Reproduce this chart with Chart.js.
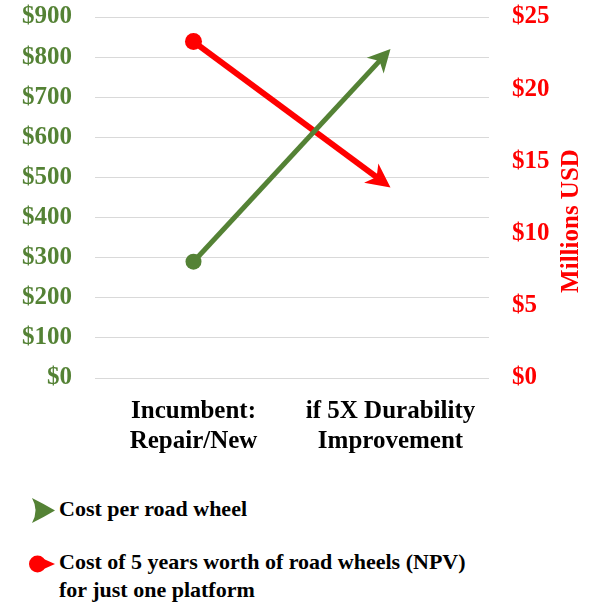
<!DOCTYPE html>
<html>
<head>
<meta charset="utf-8">
<script src="https://cdn.jsdelivr.net/npm/chart.js@4.4.1/dist/chart.umd.min.js"></script>
<style>
  body { margin: 0; background: #fff; }
  #wrap { position: relative; width: 591px; height: 602px; }
  #legend { font: bold 22px "Liberation Serif", "Times New Roman", serif; color: #000; }
  .item { position: absolute; left: 59px; line-height: 28px; white-space: nowrap; }
  .item svg { position: absolute; }
</style>
</head>
<body>
<div id="wrap">
  <canvas id="chart" width="591" height="470"></canvas>
  <div id="legend"></div>
</div>
<script>
// data
const categories = [["Incumbent:", "Repair/New"], ["if 5X Durability", "Improvement"]];
const wheelCost = [290, 820];        // $ per road wheel, left axis
const fiveYearCost = [23.3, 13.2];   // $ millions, right axis
const leftTicks = [0, 100, 200, 300, 400, 500, 600, 700, 800, 900];
const rightTicks = [0, 5, 10, 15, 20, 25];
const seriesLabels = [
  ["Cost per road wheel"],
  ["Cost of 5 years worth of road wheels (NPV)", "for just one platform"]
];
const rightTitle = "Millions USD";

const GREEN = "#548235";
const RED = "#ff0000";
const serif = '"Liberation Serif", "Times New Roman", serif';

Chart.defaults.font.family = serif;

// arrowhead sizes per dataset [length, half width]
const heads = [[22.5, 11.5], [24, 12]];

function endGeom(chart, index) {
  const pts = chart.getDatasetMeta(index).data;
  const a = pts[pts.length - 2], b = pts[pts.length - 1];
  const ang = Math.atan2(b.y - a.y, b.x - a.x);
  return { b, ux: Math.cos(ang), uy: Math.sin(ang) };
}

const arrowPlugin = {
  id: "arrows",
  beforeDatasetDraw(chart, args) {
    const { b, ux, uy } = endGeom(chart, args.index);
    const nx = -uy, ny = ux;
    const ctx = chart.ctx;
    ctx.save();
    ctx.beginPath();
    ctx.rect(0, 0, chart.width, chart.height);
    // cut the line end out so it does not poke past the arrow tip
    const s0 = -9, s1 = 12, w = 9;
    ctx.moveTo(b.x + ux * s0 + nx * w, b.y + uy * s0 + ny * w);
    ctx.lineTo(b.x + ux * s1 + nx * w, b.y + uy * s1 + ny * w);
    ctx.lineTo(b.x + ux * s1 - nx * w, b.y + uy * s1 - ny * w);
    ctx.lineTo(b.x + ux * s0 - nx * w, b.y + uy * s0 - ny * w);
    ctx.closePath();
    ctx.clip("evenodd");
  },
  afterDatasetDraw(chart, args) {
    const ctx = chart.ctx;
    ctx.restore();
    const { b, ux, uy } = endGeom(chart, args.index);
    const nx = -uy, ny = ux;
    const [L, W] = heads[args.index];
    const notch = L * 0.72;
    ctx.save();
    ctx.fillStyle = chart.data.datasets[args.index].borderColor;
    ctx.beginPath();
    ctx.moveTo(b.x, b.y);
    ctx.lineTo(b.x - ux * L + nx * W, b.y - uy * L + ny * W);
    ctx.lineTo(b.x - ux * notch, b.y - uy * notch);
    ctx.lineTo(b.x - ux * L - nx * W, b.y - uy * L - ny * W);
    ctx.closePath();
    ctx.fill();
    ctx.restore();
  }
};

const rightTitlePlugin = {
  id: "rightTitle",
  afterDraw(chart) {
    const sc = chart.scales.y1;
    const ctx = chart.ctx;
    ctx.save();
    ctx.translate(sc.right - 19, 221);
    ctx.rotate(-Math.PI / 2);
    ctx.font = "bold 25px " + serif;
    ctx.fillStyle = RED;
    ctx.textAlign = "center";
    ctx.textBaseline = "middle";
    ctx.fillText(rightTitle, 0, 0);
    ctx.restore();
  }
};

function fitY(width) {
  return (s) => {
    s.width = width;
    s.paddingTop = 0;
    s.paddingBottom = 0;
  };
}

const ctx = document.getElementById("chart").getContext("2d");
const chart = new Chart(ctx, {
  type: "line",
  data: {
    labels: categories,
    datasets: [
      {
        label: seriesLabels[0].join(" "),
        data: wheelCost,
        yAxisID: "y",
        borderColor: GREEN,
        backgroundColor: GREEN,
        borderWidth: 5,
        pointRadius: [8, 0],
        pointBorderWidth: 0,
        pointBackgroundColor: GREEN,
        tension: 0,
        borderCapStyle: "butt"
      },
      {
        label: seriesLabels[1].join(" "),
        data: fiveYearCost,
        yAxisID: "y1",
        borderColor: RED,
        backgroundColor: RED,
        borderWidth: 6,
        pointRadius: [8.5, 0],
        pointBorderWidth: 0,
        pointBackgroundColor: RED,
        tension: 0,
        borderCapStyle: "butt"
      }
    ]
  },
  options: {
    responsive: false,
    animation: false,
    devicePixelRatio: 1,
    layout: { padding: { top: 17, bottom: 0, left: 0, right: 0 } },
    plugins: {
      legend: { display: false },
      tooltip: { enabled: false }
    },
    scales: {
      x: {
        offset: true,
        grid: { display: false },
        border: { display: false },
        ticks: {
          color: "#000",
          font: { size: 25, weight: "bold", lineHeight: 1.2 },
          padding: 11,
          maxRotation: 0,
          autoSkip: false
        },
        afterFit: (s) => { s.height = 92; }
      },
      y: {
        position: "left",
        min: 0,
        max: 900,
        afterBuildTicks: (s) => { s.ticks = leftTicks.map((v) => ({ value: v })); },
        ticks: {
          color: GREEN,
          font: { size: 25, weight: "bold" },
          padding: 23,
          callback: (v) => "$" + v
        },
        grid: { color: "#d9d9d9", lineWidth: 1, drawTicks: false },
        border: { display: false },
        afterFit: fitY(95)
      },
      y1: {
        position: "right",
        min: 0,
        max: 25,
        afterBuildTicks: (s) => { s.ticks = rightTicks.map((v) => ({ value: v })); },
        ticks: {
          color: RED,
          font: { size: 25, weight: "bold" },
          padding: 23,
          callback: (v) => "$" + v
        },
        grid: { display: false, drawTicks: false },
        border: { display: false },
        afterFit: fitY(102)
      }
    }
  },
  plugins: [arrowPlugin, rightTitlePlugin]
});

// legend below the chart, built from the series
const markers = [
  { top: 3, left: -27, w: 24, h: 25,
    svg: (c) => `<path d="M0 0 Q12 6 23 12.5 Q12 19 0 25 Q7 12.5 0 0 Z" fill="${c}"/>` },
  { top: 7, left: -30, w: 27, h: 18,
    svg: (c) => `<circle cx="8.5" cy="9" r="8.5" fill="${c}"/><path d="M8 1 L26 9 L8 17 Z" fill="${c}"/>` }
];
const itemTops = [495, 548];
const legend = document.getElementById("legend");
chart.data.datasets.forEach((ds, i) => {
  const item = document.createElement("div");
  item.className = "item";
  item.style.top = itemTops[i] + "px";
  const m = markers[i];
  item.innerHTML =
    `<svg width="${m.w}" height="${m.h}" style="left:${m.left}px;top:${m.top}px">${m.svg(ds.borderColor)}</svg>` +
    seriesLabels[i].join("<br>");
  legend.appendChild(item);
});
</script>
</body>
</html>
